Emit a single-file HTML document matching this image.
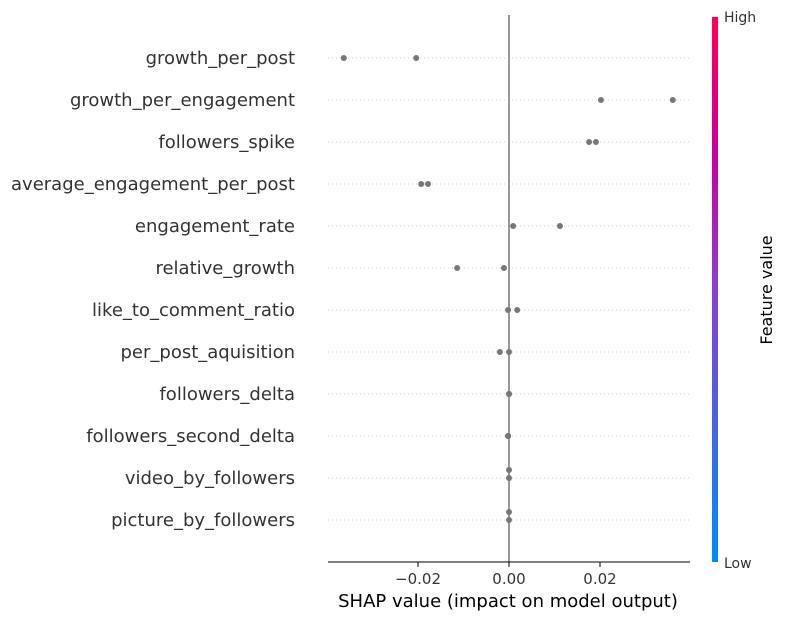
<!DOCTYPE html>
<html><head><meta charset="utf-8"><style>
body{margin:0;background:#fff;}
svg text{font-family:"DejaVu Sans","Liberation Sans",sans-serif;}
</style></head><body>
<svg width="786" height="620" xmlns="http://www.w3.org/2000/svg">
<defs><linearGradient id="cb" x1="0" y1="1" x2="0" y2="0">
<stop offset="0" stop-color="#008bfb"/><stop offset="0.5" stop-color="#8a3fd0"/><stop offset="0.75" stop-color="#c900a0"/><stop offset="1" stop-color="#ff0052"/></linearGradient></defs>
<g id="grid"></g>
<line x1="509" y1="15" x2="509" y2="562" stroke="#999" stroke-width="2"/>
<g id="pts"></g>
<line x1="328" y1="562" x2="690" y2="562" stroke="#000" stroke-width="1"/>
<g id="ticks"></g>
<text x="508" y="607" text-anchor="middle" font-size="18" fill="#000">SHAP value (impact on model output)</text>
<rect x="712" y="17" width="6" height="545" fill="url(#cb)"/>
<text x="724" y="22" font-size="14" fill="#333">High</text>
<text x="724" y="568" font-size="14" fill="#333">Low</text>
<text x="772" y="290" font-size="16" fill="#000" text-anchor="middle" transform="rotate(-90 772 290)">Feature value</text>
</svg>
<script>
const features=["growth_per_post","growth_per_engagement","followers_spike","average_engagement_per_post","engagement_rate","relative_growth","like_to_comment_ratio","per_post_aquisition","followers_delta","followers_second_delta","video_by_followers","picture_by_followers"];
const valuesA=[-0.0363,0.0202,0.0176,-0.0193,0.0009,-0.0114,-0.0002,-0.0020,0.0000,-0.0002,0.0000,0.0000];
const valuesB=[-0.0204,0.0360,0.0191,-0.0178,0.0112,-0.0011,0.0018,0.0000,0.0000,-0.0002,0.0000,0.0000];
const jitterA=[0,0,0,0,0,0,0,0,0,0,-8,-8];
const jitterB=[0,0,0,0,0,0,0,0,0,0,0,0];
const xTicks=[-0.02,0,0.02];
const xTickLabels=["\u22120.02","0.00","0.02"];
const NS="http://www.w3.org/2000/svg";
const xs=v=>509+v*4550;
const ys=i=>58+i*42;
function mk(t,a,p){const e=document.createElementNS(NS,t);for(const k in a)e.setAttribute(k,a[k]);p.appendChild(e);return e;}
const grid=document.getElementById('grid'),pts=document.getElementById('pts'),ticks=document.getElementById('ticks');
const svg=document.querySelector('svg');
features.forEach((f,i)=>{
 const g=mk('line',{x1:328,x2:690,y1:ys(i),y2:ys(i),stroke:'#ccc','stroke-width':1,'stroke-dasharray':'1 3'},grid);
 
 
 const t=mk('text',{x:295,y:ys(i)+6,'text-anchor':'end','font-size':18,fill:'#333'},svg);
 t.textContent=f;
 
 
 [[valuesA[i],jitterA[i]],[valuesB[i],jitterB[i]]].forEach(([v,j],k)=>{
  const c=mk('circle',{cx:xs(v),cy:ys(i)+j,r:3,fill:'#777'},pts);
  
  
 });
});
xTicks.forEach((v,i)=>{
 const l=mk('line',{x1:xs(v),x2:xs(v),y1:562,y2:567,stroke:'#000'},ticks);
 
 
 const t=mk('text',{x:xs(v),y:584,'text-anchor':'middle','font-size':15,fill:'#333'},ticks);
 t.textContent=xTickLabels[i];
 
 
});
</script>
</body></html>
